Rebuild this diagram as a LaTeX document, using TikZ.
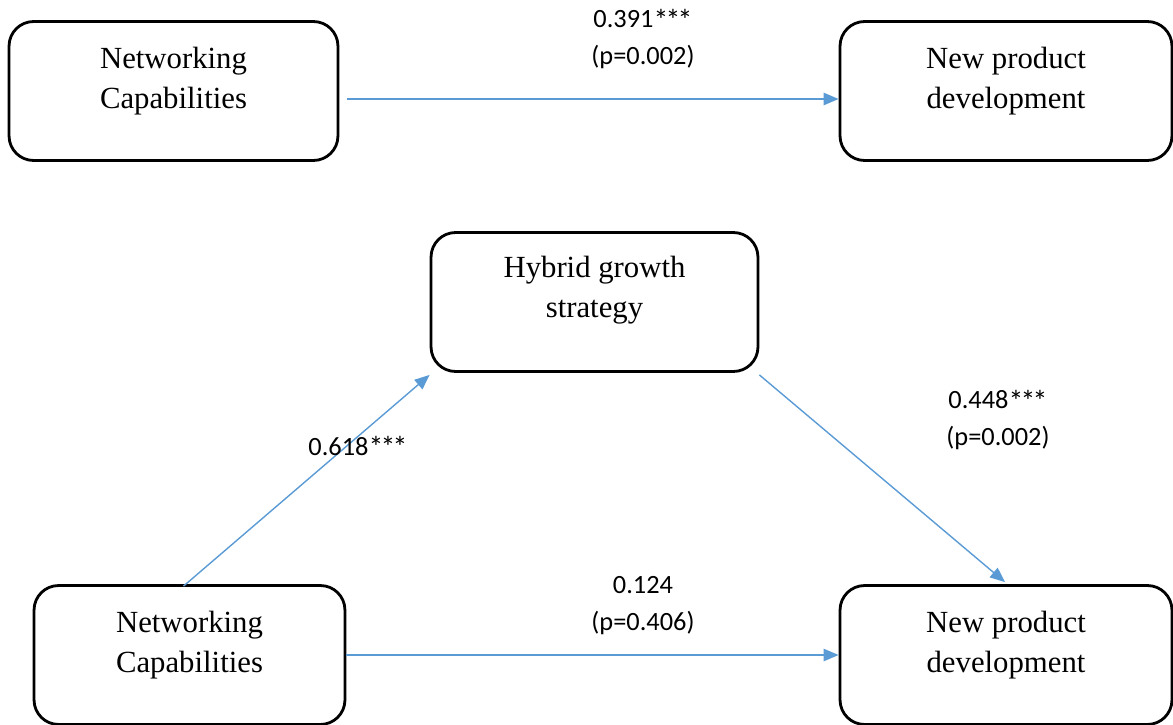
\documentclass[tikz,border=0pt]{standalone}
\usepackage{fontspec}
\setmainfont{Liberation Serif}
\newfontfamily\labelfont{Carlito}
\usetikzlibrary{arrows.meta,calc}

\definecolor{pathblue}{HTML}{5B9BD5}
\newcommand{\sigstars}{\raisebox{-1.2pt}{\fontsize{17}{21}\selectfont *\kern-1.6pt*\kern-1.6pt*}}

\tikzset{
  varbox/.style={draw,rectangle,rounded corners=14pt,line width=1.6pt,
    minimum width=6.58cm,minimum height=2.78cm,inner sep=0pt},
  vartext/.style={align=center,font=\fontsize{17.5}{23}\selectfont},
  path/.style={draw=pathblue,line width=0.8pt,-{Triangle[length=8.5pt,width=7pt]}},
  coef/.style={align=center,font=\labelfont\fontsize{15}{21}\selectfont}
}

\begin{document}
\begin{tikzpicture}[x=0.02cm,y=-0.02cm]
            \clip (0,0) rectangle (1173,724);
            % total effect
            \node [varbox] (ncA) at (173.5,91) {};
            \node [varbox,minimum width=6.64cm] (npdA) at (1006,91) {};
            \node [vartext] (ncAtext) at ($(ncA.center)+(0,-10)$) {Networking\\Capabilities};
            \node [vartext] (npdAtext) at ($(npdA.center)+(0,-10)$) {New product\\development};
            \draw [path] ($(ncA.east)+(8,8)$) -- ($(npdA.west)+(0,8)$);
            \node [coef] (totalcoef) at (643,39) {0.391\sigstars\\(p=0.002)};
            % mediation model
            \node [varbox,minimum width=6.54cm] (hgs) at (594.5,302) {};
            \node [varbox,minimum width=6.22cm] (ncB) at (189.5,655) {};
            \node [varbox,minimum width=6.64cm] (npdB) at (1006,655) {};
            \node [vartext] (hgstext) at ($(hgs.center)+(0,-12)$) {Hybrid growth\\strategy};
            \node [vartext] (ncBtext) at ($(ncB.center)+(0,-10)$) {Networking\\Capabilities};
            \node [vartext] (npdBtext) at ($(npdB.center)+(0,-10)$) {New product\\development};
            \draw [path] ($(ncB.north)+(-6,2)$) -- ($(hgs.south west)+(0,2)$);
            \draw [path] ($(hgs.south east)+(0,2)$) -- ($(npdB.north)+(-1,-2)$);
            \draw [path] (ncB.east) -- (npdB.west);
            \node [coef] (acoef) at (358,447) {0.618\sigstars};
            \node [coef] (bcoef) at (998,420) {0.448\sigstars\\(p=0.002)};
            \node [coef] (ccoef) at (643,606) {0.124\\(p=0.406)};
        \end{tikzpicture}
\end{document}
